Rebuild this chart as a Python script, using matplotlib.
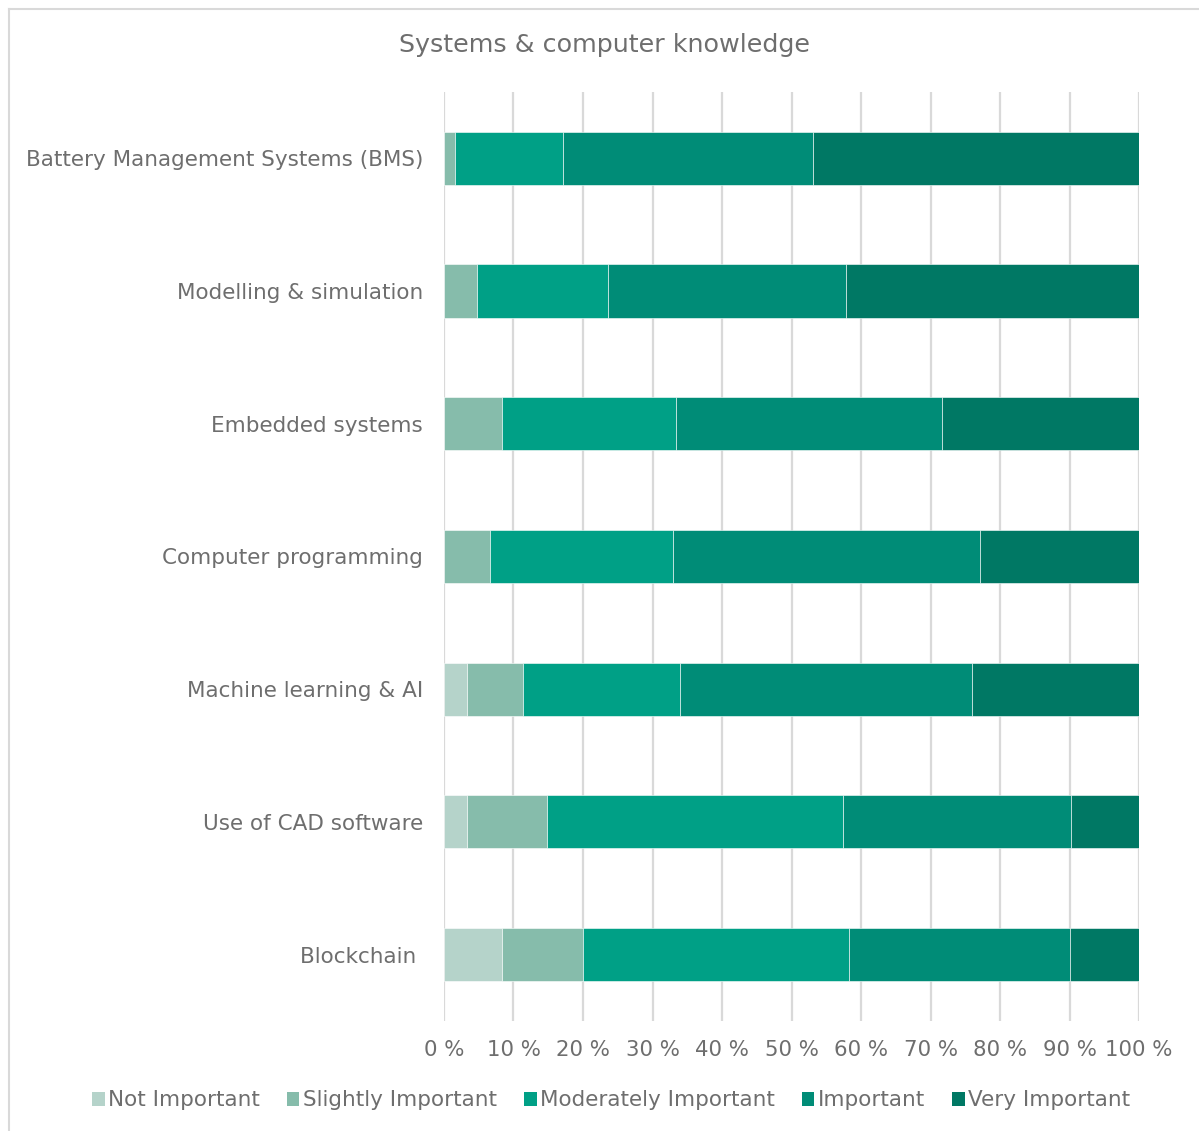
import matplotlib.pyplot as plt
from matplotlib.patches import Patch
from matplotlib.lines import Line2D

# Survey categories (top to bottom as shown)
categories = [
    "Battery Management Systems (BMS)",
    "Modelling & simulation",
    "Embedded systems",
    "Computer programming",
    "Machine learning & AI",
    "Use of CAD software",
    "Blockchain ",
]
series_names = ["Not Important", "Slightly Important", "Moderately Important",
                "Important", "Very Important"]

# shares in percent, one list per series, same order as categories
not_important = [0.0, 0.0, 0.0, 0.0, 3.3, 3.3, 8.3]
slightly_important = [1.6, 4.7, 8.3, 6.6, 8.1, 11.5, 11.7]
moderately_important = [15.5, 18.9, 25.1, 26.3, 22.6, 42.6, 38.3]
important = [36.0, 34.2, 38.3, 44.2, 42.0, 32.8, 31.8]
very_important = [46.9, 42.2, 28.3, 22.9, 24.0, 9.8, 9.9]

colors = ["#b5d3ca", "#86bcab", "#00a086", "#008c77", "#007864"]
text_grey = "#6e6e6e"

series = [not_important, slightly_important, moderately_important,
          important, very_important]

fig = plt.figure(figsize=(11.99, 11.31), dpi=100)
ax = fig.add_axes([0.3703, 0.0973, 0.5797, 0.8214])

y = list(range(len(categories)))
left = [0.0] * len(categories)
for vals, col, name in zip(series, colors, series_names):
    ax.barh(y, vals, left=left, height=0.4, color=col, edgecolor="#ffffff",
            linewidth=0.4, label=name, zorder=3)
    left = [l + v for l, v in zip(left, vals)]

ax.set_ylim(len(categories) - 0.5, -0.5)
ax.set_xlim(0, 100)
ax.set_yticks(y)
ax.set_yticklabels(categories)
ax.set_xticks(range(0, 101, 10))
ax.set_xticklabels([f"{v} %" for v in range(0, 101, 10)])
ax.tick_params(axis="y", length=0, labelsize=15.5, colors=text_grey, pad=15)
ax.tick_params(axis="x", length=0, labelsize=15.3, colors=text_grey, pad=14)
ax.grid(axis="x", color="#d9d9d9", linewidth=1.6, zorder=0)
ax.set_axisbelow(True)
for s in ax.spines.values():
    s.set_visible(False)

fig.text(0.5045, 0.960, "Systems & computer knowledge", ha="center",
         va="center", fontsize=18.3, color=text_grey)

handles = [Patch(facecolor=c, edgecolor="none") for c in colors]
fig.legend(handles, series_names, loc="center", bbox_to_anchor=(0.5095, 0.027),
           ncol=5, frameon=False, fontsize=15.5, labelcolor=text_grey,
           handlelength=0.6, handleheight=0.6, handletextpad=0.15,
           columnspacing=1.25)

# outer chart frame: only left and top edges fall inside the image
fx = 8.5 / 1199
fy = 1 - 8.5 / 1131
fig.add_artist(Line2D([fx, fx], [0, fy], transform=fig.transFigure,
                      color="#d9d9d9", linewidth=1.5))
fig.add_artist(Line2D([fx, 1], [fy, fy], transform=fig.transFigure,
                      color="#d9d9d9", linewidth=1.5))

fig.savefig("out.png", dpi=100)
